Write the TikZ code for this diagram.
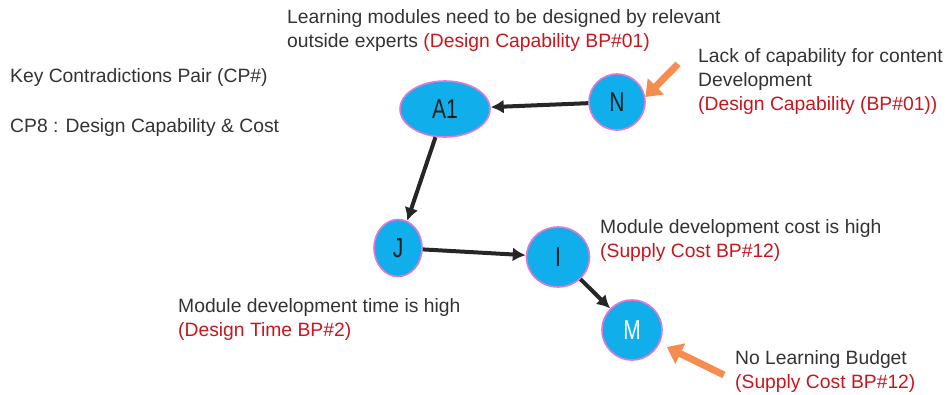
\documentclass[tikz,border=0pt]{standalone}
\usepackage{fontspec}
\setmainfont{Liberation Sans}
\usetikzlibrary{shapes.geometric,arrows.meta}
\definecolor{nodefill}{RGB}{16,174,234}
\definecolor{nodeline}{RGB}{226,120,214}
\definecolor{txtdark}{RGB}{51,51,51}
\definecolor{nodetxt}{RGB}{28,28,28}
\definecolor{txtred}{RGB}{200,22,30}
\definecolor{linkdark}{RGB}{38,38,38}
\definecolor{pointer}{RGB}{246,140,78}
\tikzset{
  cause/.style={ellipse, fill=nodefill, draw=nodeline, line width=1.6pt,
    inner sep=0pt, text=nodetxt, font=\fontsize{21}{21}\selectfont},
  link/.style={draw=linkdark, line width=4pt,
    -{Latex[length=13pt,width=14pt]}},
  pointarrow/.style={draw=pointer, line width=7pt,
    -{Triangle[length=15pt,width=22pt]}},
  label/.style={anchor=base west, inner sep=0pt, text=txtdark,
    font=\fontsize{19.3}{24}\selectfont, align=left},
}
\newcommand{\bp}[1]{\textcolor{txtred}{#1}}
\newcommand{\tallchar}[1]{\scalebox{1}[1.3]{#1}}
\begin{document}
\begin{tikzpicture}[x=1pt,y=-1pt]
  \useasboundingbox (0,0) rectangle (951,394);

  % causes
  \node[cause, minimum width=90pt, minimum height=56pt] (A1) at (445,109) {\tallchar{A1}};
  \node[cause, minimum width=56pt, minimum height=56pt] (N)  at (617,102) {\tallchar{N}};
  \node[cause, minimum width=48pt, minimum height=57pt] (J)  at (398,248) {\tallchar{J}};
  \node[cause, minimum width=63pt, minimum height=60pt] (I)  at (558,257) {\tallchar{I}};
  \node[cause, minimum width=60pt, minimum height=60pt, text=white] (M) at (632,330) {\tallchar{M}};

  % causal chain
  \draw[link] (N) -- (A1);
  \draw[link] (A1) -- (J);
  \draw[link] (J) -- (I);
  \draw[link] (I) -- (M);

  % root-cause pointers
  \coordinate (nsrc) at (678,64);
  \coordinate (msrc) at (724,375);
  \draw[pointarrow] (nsrc) -- (N.10);
  \draw[pointarrow, shorten >=8pt] (msrc) -- (M);

  % legend
  \node[label] (key) at (10,82) {Key Contradictions Pair (CP\#)};
  \node[label] (cp8) at (10,132) {CP8 : Design Capability \& Cost};

  % descriptions (anchored on the baseline of their last line)
  \node[label] (tA1) at (287,47) {Learning modules need to be designed by relevant\\
    outside experts \bp{(Design Capability BP\#01)}};
  \node[label] (tN) at (698,110) {Lack of capability for content\\
    Development\\ \bp{(Design Capability (BP\#01))}};
  \node[label] (tI) at (600,257) {Module development cost is high\\
    \bp{(Supply Cost BP\#12)}};
  \node[label] (tJ) at (178,336) {Module development time is high\\
    \bp{(Design Time BP\#2)}};
  \node[label] (tM) at (735,388) {No Learning Budget\\
    \bp{(Supply Cost BP\#12)}};
\end{tikzpicture}
\end{document}
